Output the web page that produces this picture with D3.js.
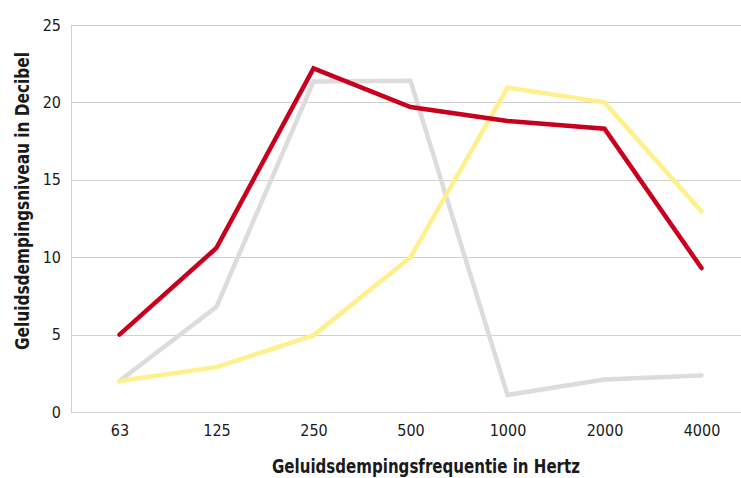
<!DOCTYPE html>
<html lang="nl">
<head>
<meta charset="UTF-8">
<title>Geluidsdemping</title>
<script src="https://d3js.org/d3.v7.min.js"></script>
<style>
    body { margin: 0; background: #fff; overflow: hidden; }
    svg { display: block; font-family: "Liberation Sans Narrow", "DejaVu Sans Condensed", sans-serif; }
</style>
</head>
<body>
<script>
    var frequencies = ['63', '125', '250', '500', '1000', '2000', '4000']
    var redValues = [5, 10.6, 22.2, 19.7, 18.8, 18.3, 9.3]
    var greyValues = [2, 6.8, 21.35, 21.4, 1.1, 2.1, 2.35]
    var yellowValues = [2, 2.9, 4.95, 10, 20.95, 20, 12.95]
    var yTicks = [0, 5, 10, 15, 20, 25]

    var w = 741, h = 478
    var pLeft = 71, pRight = 750, pTop = 25, pBottom = 412
    var fontStack = '"Liberation Sans Narrow", "DejaVu Sans Condensed", sans-serif'

    var svg = d3.select('body').append('svg')
        .attr('width', w)
        .attr('height', h)

    var xScale = d3.scalePoint()
        .domain(frequencies)
        .range([pLeft, pRight])
        .padding(0.5)

    var yScale = d3.scaleLinear()
        .domain([0, 25])
        .range([pBottom, pTop])

    // gridlines
    svg.append('g')
        .selectAll('line')
        .data(yTicks)
        .enter()
        .append('line')
        .attr('x1', pLeft)
        .attr('x2', pRight)
        .attr('y1', d => Math.round(yScale(d)) + 0.5)
        .attr('y2', d => Math.round(yScale(d)) + 0.5)
        .attr('stroke', '#d0d0d0')
        .attr('stroke-width', 1)

    // left axis line
    svg.append('line')
        .attr('x1', pLeft + 0.5).attr('x2', pLeft + 0.5)
        .attr('y1', pTop).attr('y2', pBottom + 0.5)
        .attr('stroke', '#d0d0d0')

    // y tick labels
    var yAxis = d3.axisLeft(yScale).tickValues(yTicks).tickSize(0).tickPadding(10)
    var gy = svg.append('g')
        .attr('transform', 'translate(' + pLeft + ',0)')
        .call(yAxis)
    gy.select('.domain').remove()
    gy.selectAll('text')
        .attr('font-size', 16)
        .attr('font-family', fontStack)
        .attr('fill', '#1a1a1a')

    // x tick labels
    var xAxis = d3.axisBottom(xScale).tickSize(0).tickPadding(13)
    var gx = svg.append('g')
        .attr('transform', 'translate(0,' + pBottom + ')')
        .call(xAxis)
    gx.select('.domain').remove()
    gx.selectAll('text')
        .attr('font-size', 16)
        .attr('font-family', fontStack)
        .attr('fill', '#1a1a1a')

    // lines
    var line = d3.line()
        .x((d, i) => xScale(frequencies[i]))
        .y(d => yScale(d))

    var series = [
        { values: greyValues, color: '#dcdcdc' },
        { values: yellowValues, color: '#fff08c' },
        { values: redValues, color: '#c8001e' }
    ]

    svg.selectAll('path.serie')
        .data(series)
        .enter()
        .append('path')
        .attr('class', 'serie')
        .attr('d', d => line(d.values))
        .attr('fill', 'none')
        .attr('stroke', d => d.color)
        .attr('stroke-width', 4.5)
        .attr('stroke-linejoin', 'miter')
        .attr('stroke-linecap', 'round')

    // axis titles
    svg.append('text')
        .attr('x', 426)
        .attr('y', 473)
        .attr('text-anchor', 'middle')
        .attr('font-size', 20)
        .attr('font-weight', 'bold')
        .attr('fill', '#1a1a1a')
        .attr('textLength', 308)
        .attr('lengthAdjust', 'spacingAndGlyphs')
        .text('Geluidsdempingsfrequentie in Hertz')

    svg.append('text')
        .attr('transform', 'translate(29,201) rotate(-90)')
        .attr('text-anchor', 'middle')
        .attr('font-size', 20)
        .attr('font-weight', 'bold')
        .attr('fill', '#1a1a1a')
        .attr('textLength', 298)
        .attr('lengthAdjust', 'spacingAndGlyphs')
        .text('Geluidsdempingsniveau in Decibel')
</script>
</body>
</html>
